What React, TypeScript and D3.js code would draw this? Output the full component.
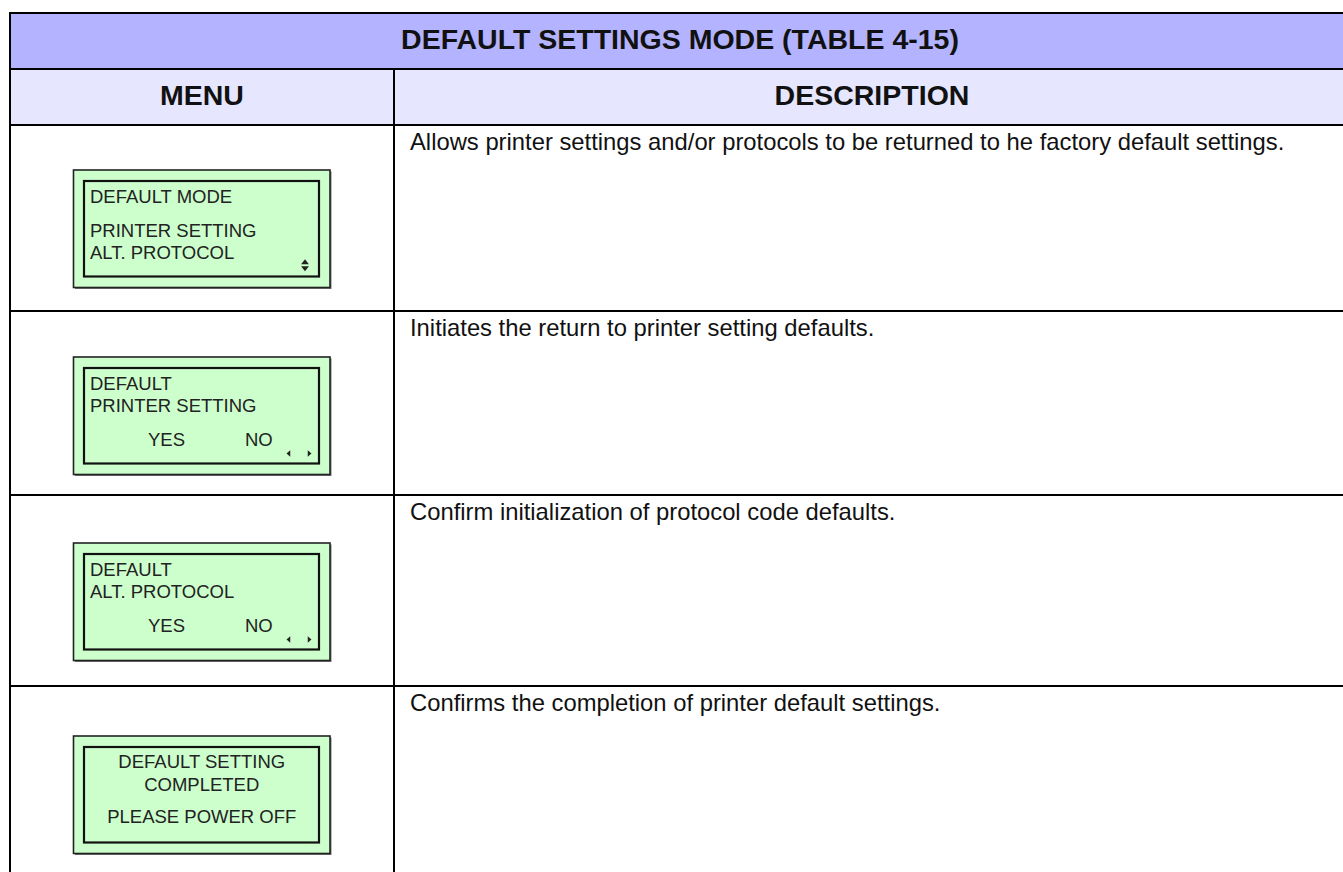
import React from "react";
import * as d3 from "d3";

const title = "DEFAULT SETTINGS MODE (TABLE 4-15)";
const headers = ["MENU", "DESCRIPTION"];
const menuScreens = [
  { lines: ["DEFAULT MODE", "PRINTER SETTING", "ALT. PROTOCOL"], kind: "updown" },
  { lines: ["DEFAULT", "PRINTER SETTING"], kind: "yesno" },
  { lines: ["DEFAULT", "ALT. PROTOCOL"], kind: "yesno" },
  { lines: ["DEFAULT SETTING", "COMPLETED", "PLEASE POWER OFF"], kind: "center" },
];
const descriptions = [
  "Allows printer settings and/or protocols to be returned to he factory default settings.",
  "Initiates the return to printer setting defaults.",
  "Confirm initialization of protocol code defaults.",
  "Confirms the completion of printer default settings.",
];
const yesNo = ["YES", "NO"];

// layout
const W = 1343;
const H = 872;
const L = 10;
const R = 1350;
const DIV = 394;
const TOP = 13;
const BAND1 = 69;
const BAND2 = 125;
const rowBounds = [125, 311, 495, 686, 900];
const boxTopOffset = [45, 46, 48, 50];
const FONT = "'Liberation Sans', Arial, Helvetica, sans-serif";

export default function App() {
  const x = d3.scaleLinear().domain([0, 1]).range([L, R]);
  const menuCx = (L + DIV) / 2;
  const descCx = (DIV + R) / 2;
  const boxX0 = 73.5;
  const boxX1 = 330;
  const boxH = 117.5;
  const inX0 = 84;
  const inX1 = 319;
  const tri = d3.symbol().type(d3.symbolTriangle).size(22);

  return (
    <svg
      width={W}
      height={H}
      style={{ position: "fixed", left: 0, top: 0, background: "#fff" }}
      fontFamily={FONT}
    >
      <rect x={0} y={0} width={W} height={H} fill="#fff" />
      {/* header bands */}
      <rect x={x(0)} y={TOP} width={x(1) - x(0)} height={BAND1 - TOP} fill="#b3b3ff" />
      <rect x={x(0)} y={BAND1} width={x(1) - x(0)} height={BAND2 - BAND1} fill="#e6e6ff" />
      <text x={(L + R) / 2} y={49} textAnchor="middle" fontWeight="bold" fontSize={28.5} fill="#111">
        {title}
      </text>
      <text x={menuCx} y={105} textAnchor="middle" fontWeight="bold" fontSize={28.5} fill="#111">
        {headers[0]}
      </text>
      <text x={descCx} y={105} textAnchor="middle" fontWeight="bold" fontSize={28.5} fill="#111">
        {headers[1]}
      </text>

      {/* rows */}
      {descriptions.map((d, i) => {
        const top = rowBounds[i];
        const by = top + boxTopOffset[i];
        const s = menuScreens[i];
        return (
          <g key={i}>
            <text x={410} y={top + 25} fontSize={23.8} fill="#111">
              {d}
            </text>
            <rect x={boxX0 + 1.5} y={by + 1.5} width={boxX1 - boxX0} height={boxH} fill="#777" />
            <rect x={boxX0} y={by} width={boxX1 - boxX0} height={boxH} fill="#ccffcc" stroke="#222" strokeWidth={1.6} />
            <rect x={inX0} y={by + 11} width={inX1 - inX0} height={boxH - 22} fill="none" stroke="#111" strokeWidth={2.2} />
            {s.kind === "updown" && (
              <g fill="#222" fontSize={18.5}>
                <text x={90} y={by + 33}>{s.lines[0]}</text>
                <text x={90} y={by + 67}>{s.lines[1]}</text>
                <text x={90} y={by + 89}>{s.lines[2]}</text>
                <path d={tri() as string} transform={`translate(305,${by + 92.5}) scale(1.1,0.8)`} />
                <path d={tri() as string} transform={`translate(305,${by + 98}) rotate(180) scale(1.1,0.8)`} />
              </g>
            )}
            {s.kind === "yesno" && (
              <g fill="#222" fontSize={18.5}>
                <text x={90} y={by + 32.5}>{s.lines[0]}</text>
                <text x={90} y={by + 55}>{s.lines[1]}</text>
                <text x={148} y={by + 89}>{yesNo[0]}</text>
                <text x={245} y={by + 89}>{yesNo[1]}</text>
                <path d={tri() as string} transform={`translate(289,${by + 96.5}) rotate(-90) scale(0.9,0.6)`} />
                <path d={tri() as string} transform={`translate(309,${by + 96.5}) rotate(90) scale(0.9,0.6)`} />
              </g>
            )}
            {s.kind === "center" && (
              <g fill="#222" fontSize={18.5} textAnchor="middle">
                <text x={(boxX0 + boxX1) / 2} y={by + 32}>{s.lines[0]}</text>
                <text x={(boxX0 + boxX1) / 2} y={by + 55}>{s.lines[1]}</text>
                <text x={(boxX0 + boxX1) / 2} y={by + 87}>{s.lines[2]}</text>
              </g>
            )}
          </g>
        );
      })}

      {/* grid lines */}
      <g stroke="#000" strokeWidth={2} fill="none">
        <line x1={L} x2={R} y1={TOP} y2={TOP} />
        <line x1={L} x2={R} y1={BAND1} y2={BAND1} />
        <line x1={L} x2={R} y1={BAND2} y2={BAND2} />
        {rowBounds.slice(1, 4).map((y, i) => (
          <line key={i} x1={L} x2={R} y1={y} y2={y} />
        ))}
        <line x1={L} x2={L} y1={TOP - 1} y2={H} />
        <line x1={DIV} x2={DIV} y1={BAND1} y2={H} />
      </g>
    </svg>
  );
}
